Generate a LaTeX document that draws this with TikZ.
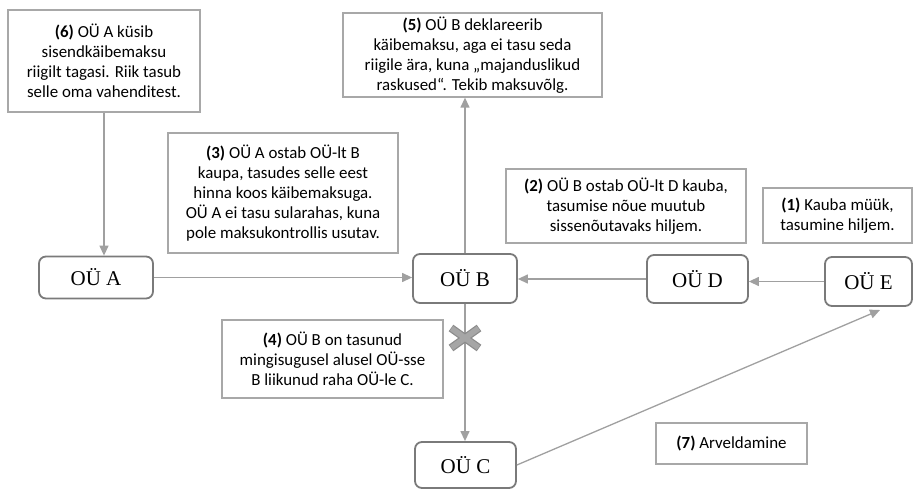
\documentclass[tikz,border=0pt]{standalone}
\usepackage{fontspec}
\setmainfont{Carlito}
\newfontfamily\firmfont{Liberation Serif}
\usetikzlibrary{arrows.meta,calc}
\definecolor{linegray}{HTML}{A0A0A0}
\definecolor{boxgray}{HTML}{A8A8A8}
\definecolor{firmgray}{HTML}{7A7A7A}
\definecolor{crossfill}{HTML}{A6A6A6}
\definecolor{crossedge}{HTML}{8C8C8C}
\begin{document}
\begin{tikzpicture}[x=1pt,y=-1pt,
  note/.style={draw=boxgray, line width=1.3pt, fill=white, align=center,
    inner sep=0pt, font=\fontsize{16.9}{20}\selectfont},
  firm/.style={draw=firmgray, line width=1.8pt, rounded corners=7pt, fill=white,
    inner sep=0pt, font=\firmfont\fontsize{21}{23}\selectfont},
  flow/.style={draw=linegray, line width=1.3pt, -{Triangle[length=10pt,width=9pt]}},
]
\useasboundingbox (0,0) rectangle (919,489);

% explanatory notes
\node[note, minimum width=192pt, minimum height=102pt] (n6) at (104,61)
  {\textbf{(6)} OÜ A küsib\\sisendkäibemaksu\\riigilt tagasi. Riik tasub\\selle oma vahenditest.};
\node[note, minimum width=259pt, minimum height=84pt] (n5) at (472.5,55)
  {\textbf{(5)} OÜ B deklareerib\\käibemaksu, aga ei tasu seda\\riigile ära, kuna „majanduslikud\\raskused“. Tekib maksuvõlg.};
\node[note, minimum width=230pt, minimum height=120pt] (n3) at (283,193)
  {\textbf{(3)} OÜ A ostab OÜ-lt B\\kaupa, tasudes selle eest\\hinna koos käibemaksuga.\\OÜ A ei tasu sularahas, kuna\\pole maksukontrollis usutav.};
\node[note, minimum width=240pt, minimum height=74pt] (n2) at (626,206)
  {\textbf{(2)} OÜ B ostab OÜ-lt D kauba,\\tasumise nõue muutub\\sissenõutavaks hiljem.};
\node[note, minimum width=149pt, minimum height=55pt] (n1) at (837.5,215.5)
  {\textbf{(1)} Kauba müük,\\tasumine hiljem.};
\node[note, minimum width=221pt, minimum height=78pt] (n4) at (332.5,359)
  {\textbf{(4)} OÜ B on tasunud\\mingisugusel alusel OÜ-sse\\B liikunud raha OÜ-le C.};
\node[note, minimum width=151pt, minimum height=41pt] (n7) at (731.5,443.5)
  {\textbf{(7)} Arveldamine};

% companies
\node[firm, minimum width=114pt, minimum height=42pt] (A) at (96,277.5) {OÜ A};
\node[firm, minimum width=104pt, minimum height=49pt] (B) at (465,278.5) {OÜ B};
\node[firm, minimum width=101pt, minimum height=48pt] (D) at (697.5,279) {OÜ D};
\node[firm, minimum width=87pt, minimum height=49pt] (E) at (868.5,281.5) {OÜ E};
\node[firm, minimum width=101pt, minimum height=46pt] (C) at (465.5,465) {OÜ C};

% flows
\draw[flow] (n6.south) -- (n6.south |- A.north);
\draw[flow] (A.east) -- (A.east -| B.west);
\draw[flow] (B.north) -- (B.north |- n5.south);
\draw[flow] (D.west) -- (D.west -| B.east);
\draw[flow] (E.west) -- (E.west -| D.east);
\draw[flow] (B.south) -- (B.south |- C.north);
\coordinate (Etip) at (880,310);
\draw[flow] (C.east) -- (Etip);

% blocked payment mark
\coordinate (X) at (465,338);
\foreach \s in {1,-1}{
  \draw[crossedge, line width=8pt] ($(X)+(-14,-10*\s)$) -- ($(X)+(14,10*\s)$);
}
\foreach \s in {1,-1}{
  \draw[crossfill, line width=5.5pt] ($(X)+(-13.4,-9.6*\s)$) -- ($(X)+(13.4,9.6*\s)$);
}
\end{tikzpicture}
\end{document}
